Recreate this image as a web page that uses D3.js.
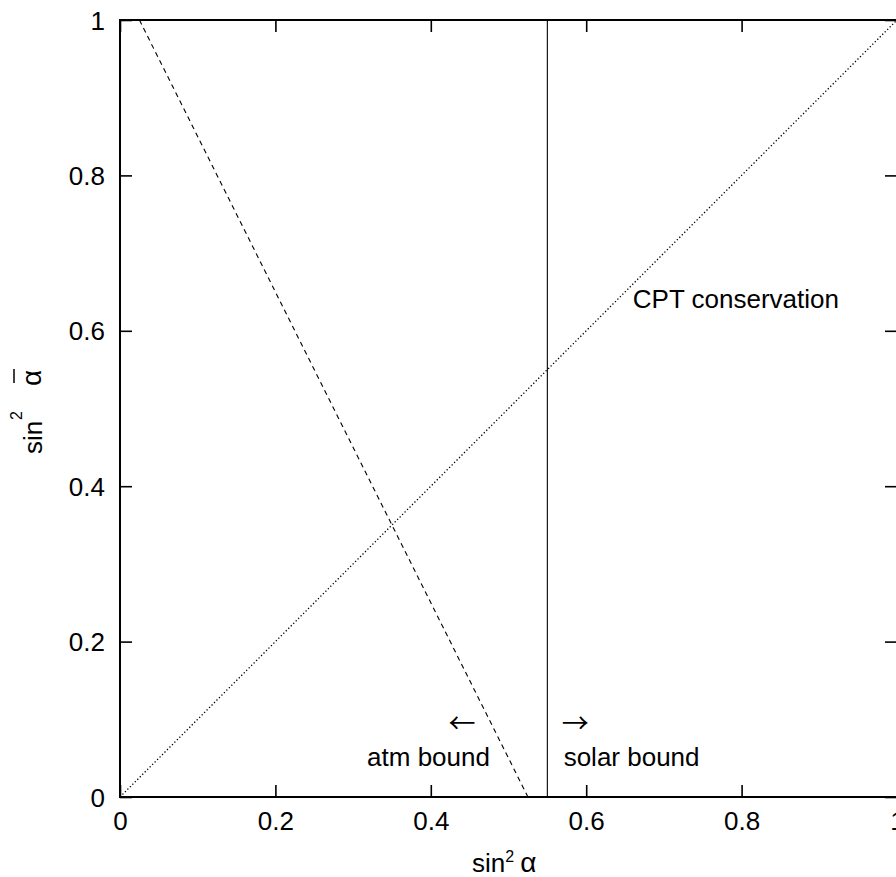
<!DOCTYPE html>
<html><head><meta charset="utf-8">
<script src="https://cdn.jsdelivr.net/npm/d3@7"></script>
<style>
html,body{margin:0;padding:0;background:#fff;}
svg{display:block;font-family:"Liberation Sans",Arial,sans-serif;}
</style></head>
<body>
<svg id="chart" width="896" height="877"></svg>
<script>
// ---- data ----
const xTicks = [0, 0.2, 0.4, 0.6, 0.8, 1];
const xTickLabels = ["0", "0.2", "0.4", "0.6", "0.8", "1"];
const yTicks = [0, 0.2, 0.4, 0.6, 0.8, 1];
const yTickLabels = ["0", "0.2", "0.4", "0.6", "0.8", "1"];
const cptX = [0, 1];          // CPT conservation (dotted diagonal)
const cptY = [0, 1];
const atmX = [0.025, 0.525];  // atm bound (dashed)
const atmY = [1, 0];
const solarX = [0.55, 0.55];  // solar bound (solid vertical)
const solarY = [0, 1];
const annotations = [
  {text: "CPT conservation", x: 0.66, y: 0.629, anchor: "start", arrow: false},
  {text: "\u2190", x: 0.44, y: 0.088, anchor: "middle", arrow: true},
  {text: "\u2192", x: 0.586, y: 0.088, anchor: "middle", arrow: true},
  {text: "atm bound", x: 0.318, y: 0.04, anchor: "start", arrow: false},
  {text: "solar bound", x: 0.571, y: 0.04, anchor: "start", arrow: false}
];

// ---- layout ----
const L = 120, R = 897, T = 20, B = 797;
const FS = 26;
const svg = d3.select("#chart");
const x = d3.scaleLinear().domain([0, 1]).range([L, R]);
const y = d3.scaleLinear().domain([0, 1]).range([B, T]);

// axes
const fmtX = (d, i) => xTickLabels[i];
const fmtY = (d, i) => yTickLabels[i];
const gx = svg.append("g").attr("transform", `translate(0,${B})`)
  .call(d3.axisBottom(x).tickValues(xTicks).tickFormat(fmtX).tickSize(-12).tickPadding(15));
const gxt = svg.append("g").attr("transform", `translate(0,${T})`)
  .call(d3.axisTop(x).tickValues(xTicks).tickFormat("").tickSize(-12));
const gy = svg.append("g").attr("transform", `translate(${L},0)`)
  .call(d3.axisLeft(y).tickValues(yTicks).tickFormat(fmtY).tickSize(-12).tickPadding(15));
const gyr = svg.append("g").attr("transform", `translate(${R},0)`)
  .call(d3.axisRight(y).tickValues(yTicks).tickFormat("").tickSize(-12));
[gx, gxt, gy, gyr].forEach(g => {
  g.select(".domain").remove();
  g.selectAll(".tick line").attr("stroke", "#000").attr("stroke-width", 1.6);
  g.selectAll("text").attr("font-size", FS).attr("fill", "#000")
    .attr("font-family", "Liberation Sans, Arial, sans-serif");
});
gy.selectAll(".tick text").attr("dy", null).attr("y", 9);

// frame
svg.append("rect").attr("x", L).attr("y", T).attr("width", R - L).attr("height", B - T)
  .attr("fill", "none").attr("stroke", "#000").attr("stroke-width", 2);

// lines
const line = d3.line().x(d => x(d[0])).y(d => y(d[1]));
svg.append("path").attr("d", line(cptX.map((v, i) => [v, cptY[i]])))
  .attr("fill", "none").attr("stroke", "#000").attr("stroke-width", 1.3)
  .attr("stroke-dasharray", "1.3,2.2");
svg.append("path").attr("d", line(atmX.map((v, i) => [v, atmY[i]])))
  .attr("fill", "none").attr("stroke", "#000").attr("stroke-width", 1.1)
  .attr("stroke-dasharray", "5,4");
svg.append("path").attr("d", line(solarX.map((v, i) => [v, solarY[i]])))
  .attr("fill", "none").attr("stroke", "#000").attr("stroke-width", 1.1);

// annotations
svg.selectAll("text.ann").data(annotations).enter().append("text")
  .attr("class", "ann")
  .attr("x", d => x(d.x)).attr("y", d => y(d.y) + (d.arrow ? 4 : 0))
  .attr("text-anchor", d => d.anchor)
  .attr("font-size", d => d.arrow ? 27 : FS)
  .attr("font-family", d => d.arrow ? "Noto Sans CJK SC" : null)
  .attr("fill", "#000")
  .text(d => d.text);

// x title: sin^2 alpha
const xt = svg.append("text").attr("x", 472).attr("y", 872).attr("font-size", FS).attr("fill", "#000");
xt.append("tspan").text("sin");
xt.append("tspan").attr("font-size", 16).attr("dy", -10).text("2");
xt.append("tspan").attr("font-size", 28).attr("dy", 10).attr("dx", 6).text("\u03b1");

// y title: sin^2 alpha-bar (rotated)
const yt = svg.append("g").attr("transform", "translate(42,454) rotate(-90)");
yt.append("text").attr("x", 0).attr("y", 0).attr("font-size", FS).attr("fill", "#000").text("sin");
yt.append("text").attr("x", 34).attr("y", -20).attr("font-size", 16).attr("fill", "#000").text("2");
yt.append("text").attr("x", 68).attr("y", -1).attr("font-size", 28).attr("fill", "#000").text("\u03b1");
yt.append("line").attr("x1", 71).attr("x2", 85).attr("y1", -28).attr("y2", -28)
  .attr("stroke", "#000").attr("stroke-width", 1.5);
</script>
</body></html>
